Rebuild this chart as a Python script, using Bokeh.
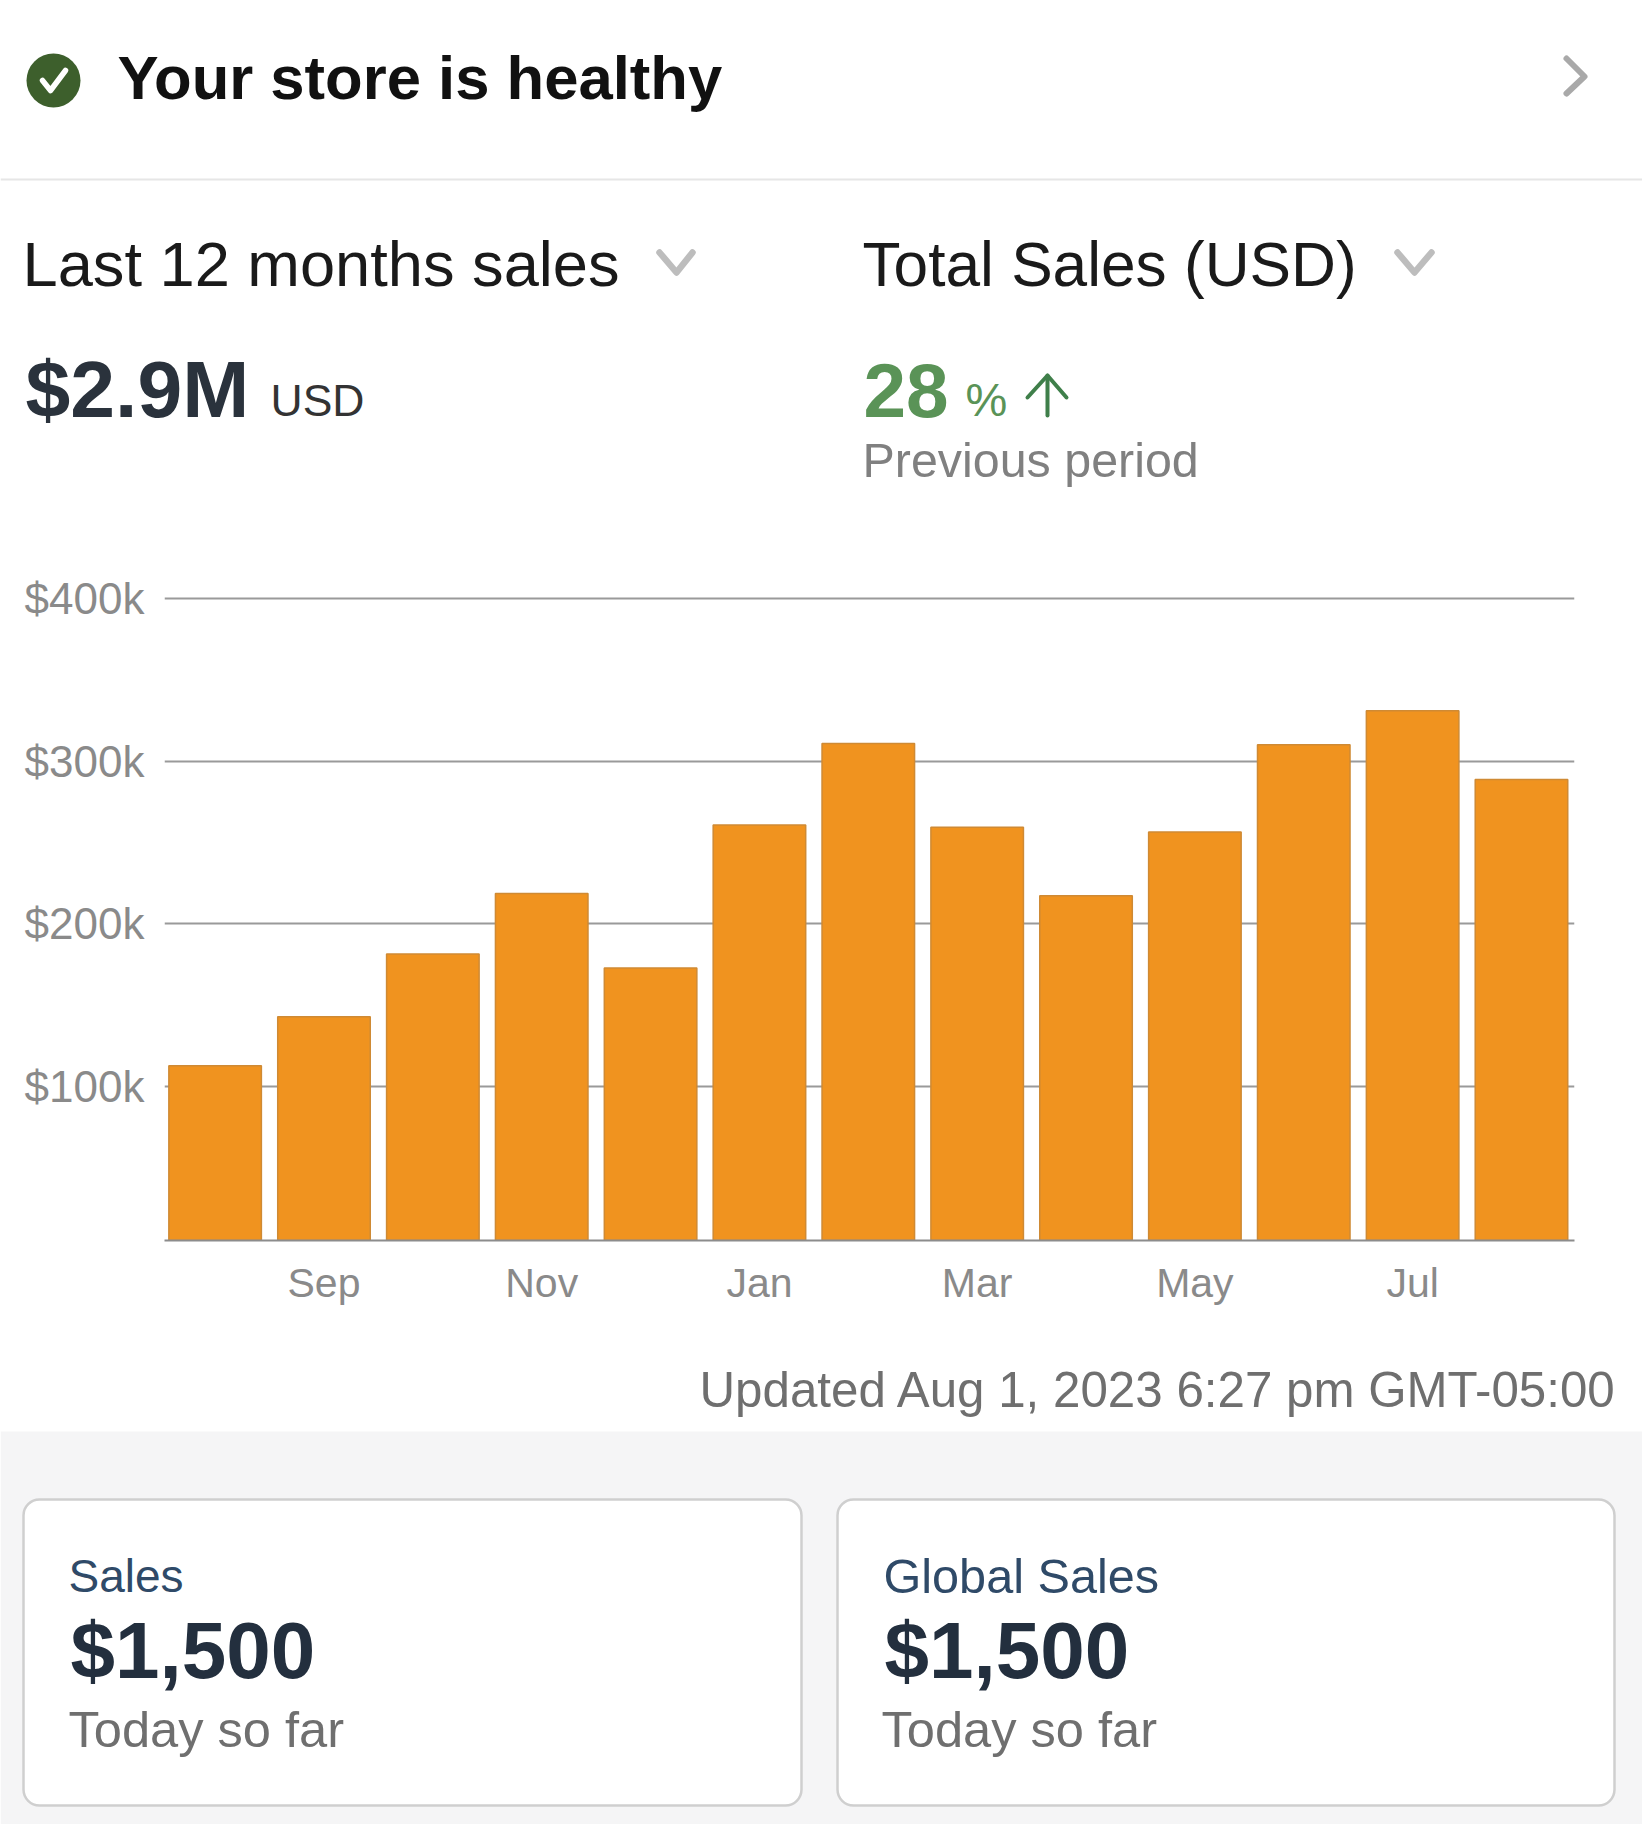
from bokeh.core.properties import value
from bokeh.embed import file_html
from bokeh.layouts import column
from bokeh.models import ColumnDataSource, FixedTicker, PrintfTickFormatter, Range1d
from bokeh.plotting import figure
from bokeh.resources import INLINE

# chart values, $ thousands
months = ["Aug", "Sep", "Oct", "Nov", "Dec", "Jan", "Feb", "Mar", "Apr", "May", "Jun", "Jul", "Aug "]
sales = [112.8, 142.8, 181.4, 218.6, 172.9, 260.8, 310.9, 259.4, 217.2, 256.5, 310.1, 330.9, 288.7]
y_ticks = [100, 200, 300, 400]
x_tick_labels = ["Sep", "Nov", "Jan", "Mar", "May", "Jul"]

FONT = "Liberation Sans"
ORANGE = "#f0931f"
GREEN = "#5a9357"


def blank(y_top, y_bottom, background="#ffffff"):
    # page-pixel canvas, so the header and cards can be laid out like a screen
    p = figure(
        width=1642, height=y_bottom - y_top,
        x_range=Range1d(0, 1642), y_range=Range1d(y_bottom, y_top),
        x_axis_location=None, y_axis_location=None,
        tools="", toolbar_location=None, output_backend="svg",
        min_border=0, background_fill_color=background, frame_align=False,
    )
    p.grid.visible = False
    p.outline_line_color = None
    return p


def put(p, x, y, text, size, color, style="normal", align="left"):
    # alphabetic baseline lands low in the svg text box, pull it back up
    p.text([x], [y - 0.37 * size], text=[text], text_font=value(FONT), text_font_size=f"{size}px",
           text_color=color, text_font_style=style, text_align=align,
           text_baseline="alphabetic")


def stroke(p, xs, ys, color, width):
    p.line(xs, ys, line_color=color, line_width=width, line_join="round", line_cap="round")


# ------------------------------ header ------------------------------
top = blank(0, 560)
top.scatter([53], [80], size=54, marker="circle", fill_color="#3d5f2c", line_color=None)
stroke(top, [42, 50, 65], [80, 90, 70], "#ffffff", 5.5)
put(top, 117, 100, "Your store is healthy", 61.6, "#111111", "bold")
stroke(top, [1566, 1584, 1566], [58, 76, 93], "#a9a9a9", 6)
top.line([0, 1642], [179, 179], line_color="#e6e6e6", line_width=2)

put(top, 22, 287, "Last 12 months sales", 63.2, "#1a1a1a")
stroke(top, [659, 676, 692], [252, 272, 252], "#bdbdbd", 6.5)
put(top, 862, 287, "Total Sales (USD)", 62.2, "#1a1a1a")
stroke(top, [1397, 1414, 1431], [252, 272, 252], "#bdbdbd", 6.5)

put(top, 25, 418, "$2.9M", 80.5, "#2a323c", "bold")
put(top, 270, 416, "USD", 44.5, "#333333")
put(top, 863, 418, "28", 76.5, GREEN, "bold")
put(top, 965, 416, "%", 47, GREEN)
stroke(top, [1047, 1047], [415, 375], "#3f7f4a", 4)
stroke(top, [1027, 1047, 1066], [397, 375, 397], "#3f7f4a", 4)
put(top, 862, 477, "Previous period", 48.4, "#808080")

# ------------------------------ chart -------------------------------
source = ColumnDataSource(dict(x=list(range(len(months))), month=months, sales=sales))

chart = figure(
    width=1642, height=770,
    x_range=Range1d(-0.465, 12.487), y_range=Range1d(5.3, 404.9),
    tools="", toolbar_location=None, output_backend="svg", frame_align=False,
    min_border_left=164, min_border_right=68, min_border_top=30, min_border_bottom=90,
)
chart.vbar(x="x", top="sales", bottom=0, width=0.85, source=source,
           fill_color=ORANGE, line_color="#cf8a34", line_width=1.5)

chart.outline_line_color = None
chart.xgrid.grid_line_color = None
chart.ygrid.grid_line_color = "#9a9a9a"
chart.ygrid.grid_line_width = 2
chart.ygrid.ticker = FixedTicker(ticks=y_ticks)

chart.yaxis.ticker = FixedTicker(ticks=y_ticks)
chart.yaxis.formatter = PrintfTickFormatter(format="$%dk")
chart.yaxis.axis_line_color = None
chart.yaxis.major_tick_line_color = None
chart.yaxis.minor_tick_line_color = None
chart.yaxis.major_label_standoff = 14
chart.yaxis.major_label_text_font = FONT
chart.yaxis.major_label_text_font_size = "44px"
chart.yaxis.major_label_text_color = "#8a8a8a"

chart.xaxis.ticker = FixedTicker(ticks=[months.index(m) for m in x_tick_labels])
chart.xaxis.major_label_overrides = {months.index(m): m for m in x_tick_labels}
chart.xaxis.axis_line_color = "#8c8c8c"
chart.xaxis.axis_line_width = 2
chart.xaxis.major_tick_line_color = None
chart.xaxis.minor_tick_line_color = None
chart.xaxis.major_label_standoff = 13
chart.xaxis.major_label_text_font = FONT
chart.xaxis.major_label_text_font_size = "41px"
chart.xaxis.major_label_text_color = "#8a8a8a"

# ------------------------------ cards -------------------------------
bottom = blank(1330, 1824)
bottom.quad(left=[0], right=[1642], top=[1431], bottom=[1824], fill_color="#f5f5f6", line_color=None)
put(bottom, 1617, 1407, "Updated Aug 1, 2023 6:27 pm GMT-05:00", 49.3, "#6f6f6f", align="right")
bottom.quad(left=[23, 837], right=[801, 1614], top=[1499, 1499], bottom=[1805, 1805],
            fill_color="#ffffff", line_color="#cfcfcf", line_width=2.5, border_radius=16)

put(bottom, 68, 1593, "Sales", 46, "#2f4a68")
put(bottom, 70, 1680, "$1,500", 80, "#232f3e", "bold")
put(bottom, 68, 1748, "Today so far", 50.6, "#6f6f6f")

put(bottom, 883, 1593, "Global Sales", 48.6, "#2f4a68")
put(bottom, 884, 1680, "$1,500", 80, "#232f3e", "bold")
put(bottom, 881, 1748, "Today so far", 50.6, "#6f6f6f")

page = column(top, chart, bottom, spacing=0)
open("out.html", "w").write(file_html(page, INLINE))
